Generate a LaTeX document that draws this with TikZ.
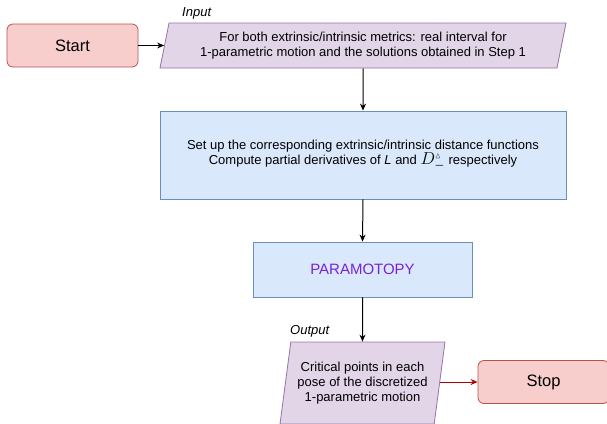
\documentclass[tikz,border=0pt]{standalone}
\usepackage{amsmath}
\usepackage{amssymb}
\usepackage{fontspec}
\setmainfont{Liberation Sans}
\usetikzlibrary{shapes.geometric,arrows.meta}
\definecolor{redfill}{HTML}{F8CECC}
\definecolor{reddraw}{HTML}{B85450}
\definecolor{purfill}{HTML}{E1D5E7}
\definecolor{purdraw}{HTML}{9673A6}
\definecolor{bluefill}{HTML}{DAE8FC}
\definecolor{bluedraw}{HTML}{6C8EBF}
\definecolor{paratext}{HTML}{7A22D6}
\definecolor{darkred}{HTML}{B20000}
\tikzset{
  termbox/.style={draw=reddraw, fill=redfill, rounded corners=6pt, line width=0.8pt,
    minimum width=131pt, minimum height=43pt, inner sep=0pt, font=\fontsize{16.5}{19}\selectfont},
  iobox/.style={draw=purdraw, fill=purfill, line width=0.8pt, trapezium, trapezium stretches body,
    inner sep=0pt, align=center, font=\fontsize{13}{15}\selectfont},
  procbox/.style={draw=bluedraw, fill=bluefill, line width=0.8pt, inner sep=0pt, align=center,
    font=\fontsize{13}{15}\selectfont},
  flow/.style={-{Stealth[length=7pt,width=6pt]}, line width=1pt, black},
  lbl/.style={font=\fontsize{13}{15}\selectfont\itshape, inner sep=0pt, anchor=west}
}
\begin{document}
\begin{tikzpicture}[x=1pt,y=-1pt]
\useasboundingbox (0,0) rectangle (607,423);
\node[termbox] (start) at (72.5,45.5) {Start};
\node[iobox, trapezium left angle=71.6, trapezium right angle=108.4,
  minimum width=406pt, minimum height=45pt] (input) at (363,45.5)
  {For both extrinsic/intrinsic metrics: real interval for\\1-parametric motion and the solutions obtained in Step 1};
\node[lbl] (inlbl) at (182,13) {Input};
\node[procbox, minimum width=406pt, minimum height=88pt] (setup) at (363,155)
  {Set up the corresponding extrinsic/intrinsic distance functions\\
   Compute partial derivatives of \textit{L} and {\fontsize{16}{15}\selectfont$D^{\scriptscriptstyle\vartriangle}_{\boldsymbol{-}}$} respectively};
\node[procbox, minimum width=219pt, minimum height=55pt, text=paratext,
  font=\fontsize{15}{17}\selectfont] (para) at (362.5,269.5) {PARAMOTOPY};
\node[iobox, trapezium left angle=75.6, trapezium right angle=104.4,
  minimum width=165pt, minimum height=82pt] (output) at (362.5,383)
  {Critical points in each\\pose of the discretized\\1-parametric motion};
\node[lbl] (outlbl) at (290,331) {Output};
\node[termbox] (stop) at (543.5,382) {Stop};
\draw[flow] (start.east) -- (input.west |- start.east);
\draw[flow] (input.south) -- (setup.north);
\draw[flow] (setup.south) -- (para.north);
\draw[flow] (para.south) -- (output.north);
\draw[flow, darkred] (output.east |- stop.west) -- (stop.west);
\end{tikzpicture}
\end{document}
